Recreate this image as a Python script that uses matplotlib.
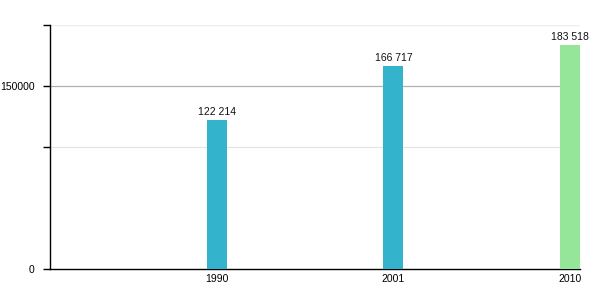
import matplotlib
matplotlib.use("Agg")
import matplotlib.pyplot as plt

years = ["1990", "2001", "2010"]
population = [122214, 166717, 183518]
value_labels = ["122 214", "166 717", "183 518"]
bar_colors = ["#34b3cd", "#34b3cd", "#96e69a"]

plt.rcParams['font.family'] = ['Liberation Sans', 'DejaVu Sans']

fig = plt.figure(figsize=(6, 3), dpi=100)
ax = fig.add_axes([50/600, 31/300, 530/600, 244/300])

x = list(range(len(years)))
ax.bar(x, population, width=0.113, color=bar_colors, zorder=3)
for xi, v, lab in zip(x, population, value_labels):
    ax.text(xi, v + 2500, lab, ha='center', va='bottom', fontsize=7.5, color='#111111')

ax.set_xlim(-0.946, 2.057)
ax.set_ylim(0, 200000)
ax.set_xticks(x)
ax.set_xticklabels(years, fontsize=7.5)
ax.tick_params(axis='x', length=0, pad=3.5)
ax.set_yticks([0, 100000, 150000, 200000])
ax.set_yticklabels(["0", "", "150000", ""], fontsize=7.5)
ax.tick_params(axis='y', length=5, width=1, pad=6)

ax.axhline(100000, color='#e4e4e4', lw=0.9, zorder=1)
ax.axhline(150000, color='#b0b0b0', lw=0.9, zorder=1)
ax.axhline(200000, color='#ececec', lw=0.9, zorder=1)

ax.spines['top'].set_visible(False)
ax.spines['right'].set_visible(False)
ax.spines['left'].set_linewidth(1)
ax.spines['bottom'].set_linewidth(1)

fig.savefig("out.png", dpi=100)
